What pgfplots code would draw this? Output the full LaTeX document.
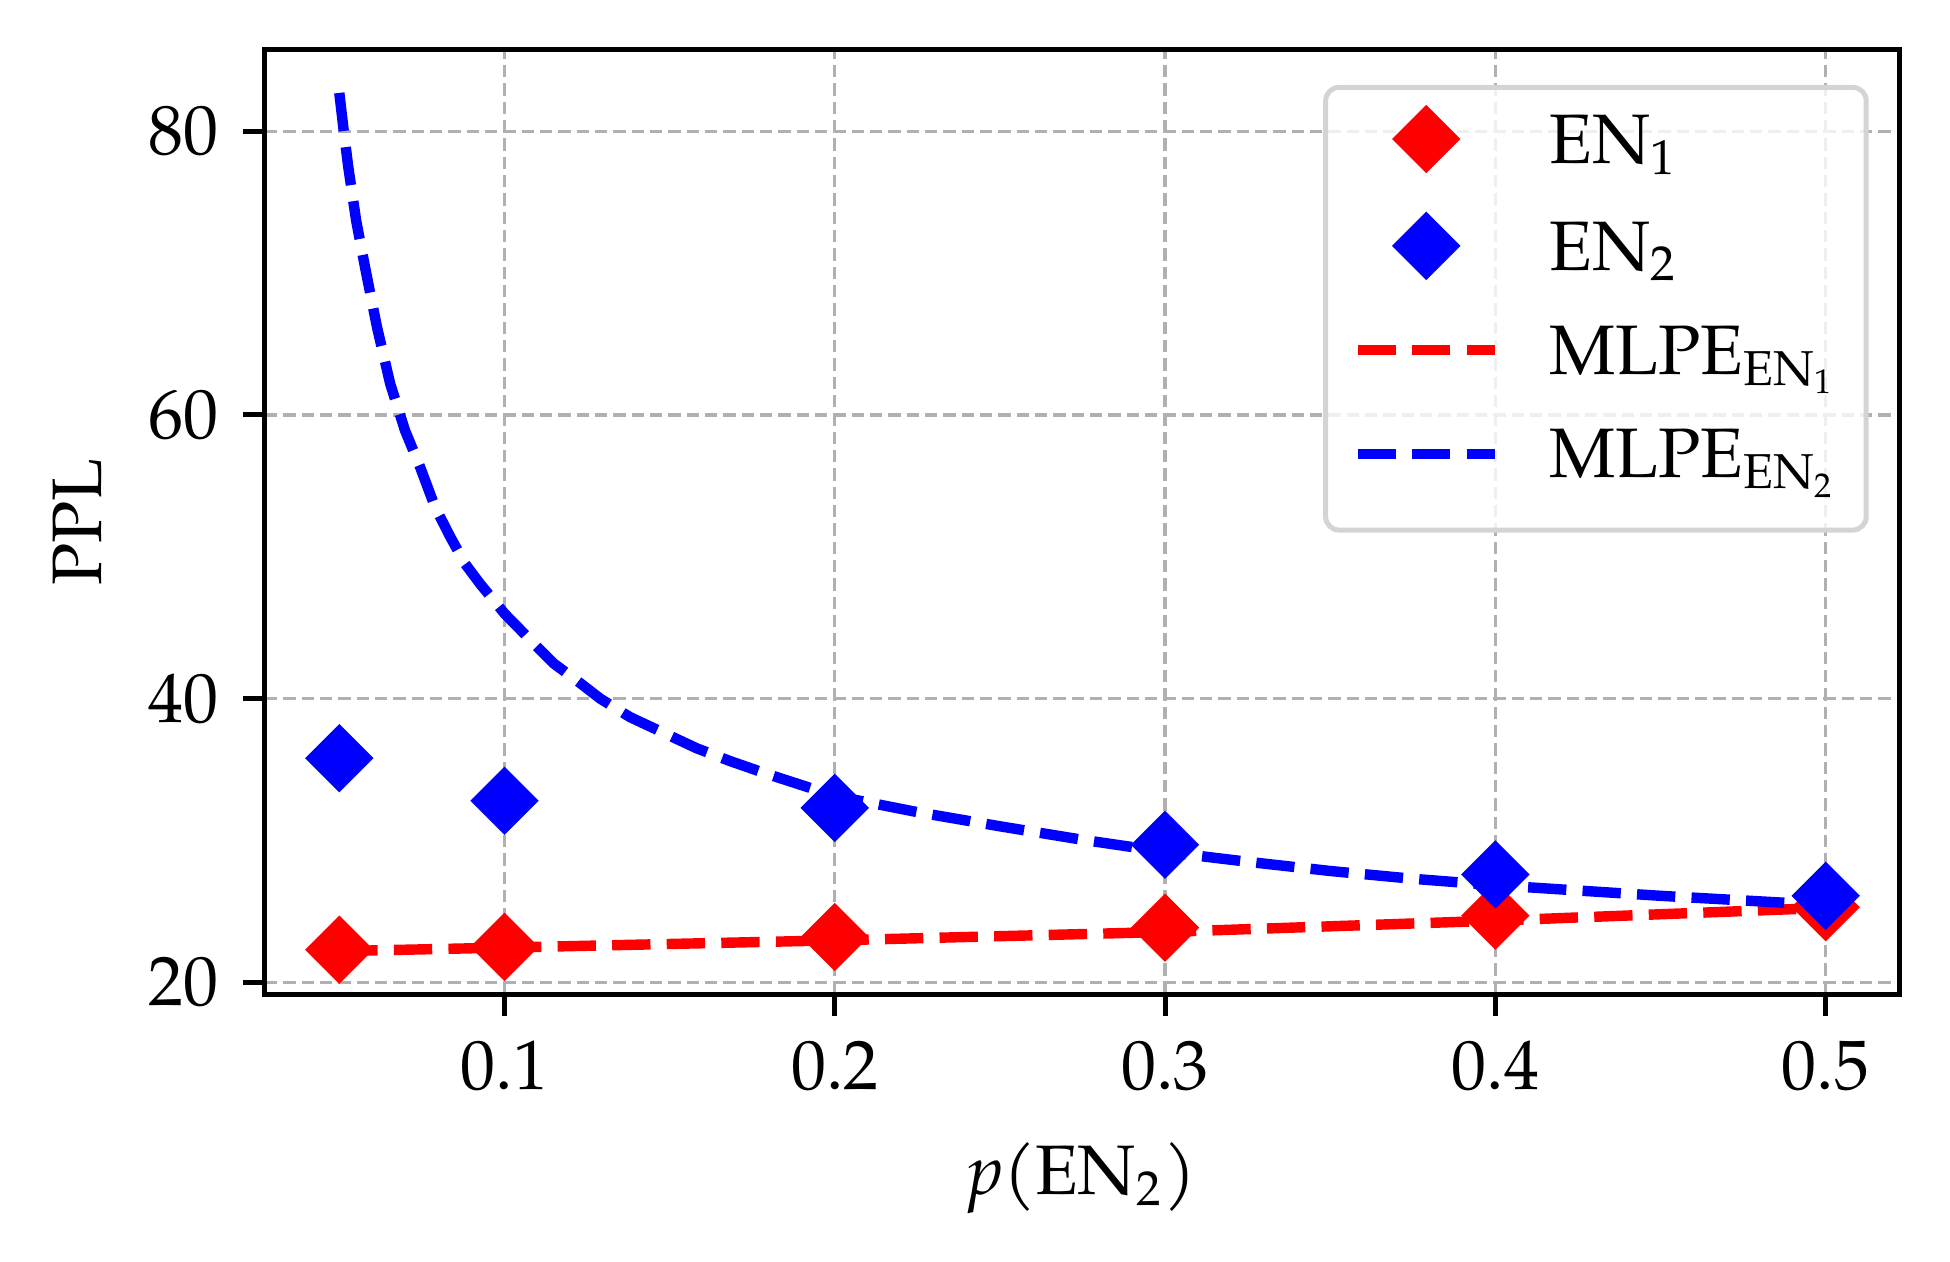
\documentclass[border=0pt]{standalone}
\usepackage{fontspec}
\setmainfont{TeX Gyre Pagella}
\usepackage{pgfplots}
\pgfplotsset{compat=1.18}
\definecolor{gridgray}{RGB}{176,176,176}
\definecolor{legendgray}{RGB}{212,212,212}
\definecolor{pred}{RGB}{255,0,0}
\definecolor{pblue}{RGB}{0,0,255}
\begin{document}
\fontsize{8.4}{10}\selectfont
\begin{tikzpicture}
\begin{axis}[
  scale only axis,
  width=196.2pt, height=113.3pt,
  xmin=0.0275, xmax=0.5225,
  ymin=19.17, ymax=85.73,
  xtick={0.1,0.2,0.3,0.4,0.5},
  xticklabels={0.1,0.2,0.3,0.4,0.5},
  ytick={20,40,60,80},
  yticklabels={20,40,60,80},
  tick pos=left,
  tick align=outside,
  major tick length=2.6pt,
  every tick/.style={black, line width=0.6pt},
  axis line style={line width=0.6pt},
  grid=major,
  major grid style={line width=0.4pt, color=gridgray, dash pattern=on 1.5pt off 0.7pt},
  xlabel={\textit{p}(EN\textsubscript{2})},
  ylabel={PPL},
  every axis x label/.style={at={(axis description cs:0.5,-0.195)}, anchor=center},
  every axis y label/.style={at={(axis description cs:-0.1147,0.5)}, rotate=90, anchor=center},
  legend image code/.code={
    \draw[yshift=2.9pt, mark repeat=2, mark phase=2, fill opacity=1, draw opacity=1, #1] plot coordinates {(0pt,0pt) (8.25pt,0pt) (16.5pt,0pt)};
    \path (22.4pt,2.9pt);
  },
  legend style={
    at={(1,1)}, anchor=north east, xshift=-3.75pt, yshift=-4.2pt,
    draw=legendgray, line width=0.6pt, rounded corners=1.6pt,
    fill=white, fill opacity=0.8, text opacity=1, draw opacity=1,
    inner xsep=3.2pt, inner ysep=2.3pt, row sep=5.05pt,
    cells={anchor=base west},
    nodes={inner sep=0pt, text height=6.46pt, text depth=0.94pt},
  },
]
\addplot[only marks, mark=square*, mark size=2.75pt, color=pred, mark options={rotate=45, line width=0.3pt, solid}]
  coordinates {(0.05,22.3) (0.1,22.5) (0.2,23.2) (0.3,23.85) (0.4,24.7) (0.5,25.3)};
\addlegendentry{EN\textsubscript{1}}
\addplot[only marks, mark=square*, mark size=2.75pt, color=pblue, mark options={rotate=45, line width=0.3pt, solid}]
  coordinates {(0.05,35.8) (0.1,32.8) (0.2,32.3) (0.3,29.7) (0.4,27.6) (0.5,26.1)};
\addlegendentry{EN\textsubscript{2}}
\addplot[color=pred, line width=1.25pt, dash pattern=on 4.6pt off 1.95pt, mark=none]
  coordinates {(0.05,22.2) (0.1,22.45) (0.2,22.96) (0.3,23.55) (0.4,24.35) (0.5,25.25)};
\addlegendentry{MLPE\textsubscript{EN\textsubscript{1}}}
\addplot[color=pblue, line width=1.25pt, dash pattern=on 4.6pt off 1.95pt, mark=none]
  coordinates {(0.05,82.7) (0.0513,80.1) (0.0527,77.5) (0.0551,73.7) (0.0578,70.4)
   (0.0614,66.2) (0.0654,62.2) (0.0699,58.9) (0.0745,56.3) (0.079,53.5) (0.0836,51.4)
   (0.0881,49.5) (0.0926,48.1) (0.0972,46.8) (0.1,46.0) (0.1038,45.1) (0.1088,43.9)
   (0.1148,42.5) (0.1229,41.1) (0.129,40.0) (0.138,38.7) (0.1481,37.6) (0.1582,36.5)
   (0.1683,35.6) (0.1794,34.7) (0.19,33.9) (0.2,33.15) (0.225,32.0) (0.25,31.0)
   (0.275,30.05) (0.3,29.2) (0.325,28.5) (0.35,27.85) (0.375,27.3) (0.4,26.85)
   (0.45,26.1) (0.5,25.45)};
\addlegendentry[text depth=3.95pt]{MLPE\textsubscript{EN\textsubscript{2}}}
\end{axis}
\pgfresetboundingbox
\path (-31.8pt,-32.14pt) rectangle (202.2pt,119.3pt);
\end{tikzpicture}
\end{document}
